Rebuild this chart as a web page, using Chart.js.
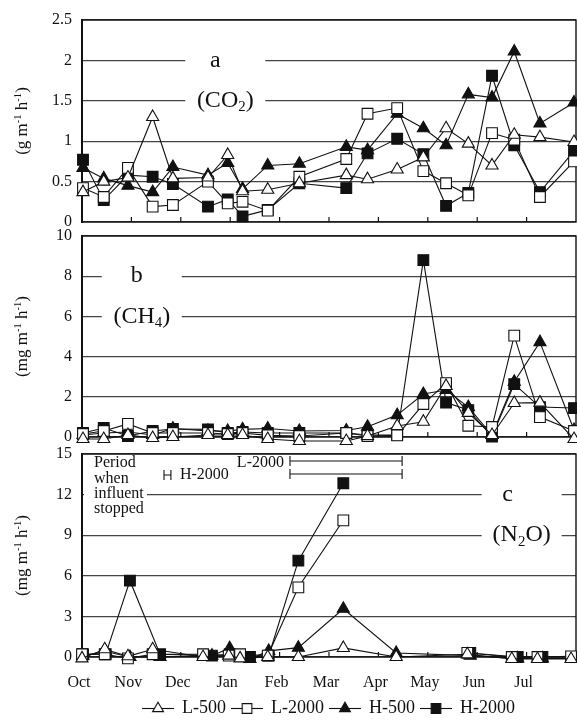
<!DOCTYPE html>
<html>
<head>
<meta charset="utf-8">
<script src="https://cdn.jsdelivr.net/npm/chart.js@4.4.0/dist/chart.umd.min.js"></script>
<style>
  html, body { margin: 0; padding: 0; background: #fff; }
  #wrap { position: relative; width: 577px; height: 720px; overflow: hidden; background: #fff; }
  canvas { position: absolute; left: 0; }
  #chartA { top: 0; }
  #chartB { top: 216px; }
  #chartC { top: 434px; }
</style>
</head>
<body>
<div id="wrap">
  <canvas id="chartA" width="577" height="232"></canvas>
  <canvas id="chartB" width="577" height="231"></canvas>
  <canvas id="chartC" width="577" height="296"></canvas>
</div>
<script>
// ===== Data =====
const months = ['Oct', 'Nov', 'Dec', 'Jan', 'Feb', 'Mar', 'Apr', 'May', 'Jun', 'Jul'];
const seriesNames = ['L-500', 'L-2000', 'H-500', 'H-2000'];

// sampling dates (months after 1 Oct), panels a and b
const sampleDates = [0.02, 0.44, 0.93, 1.43, 1.84, 2.55, 2.95, 3.25, 3.76, 4.40, 5.35, 5.78, 6.38, 6.91, 7.37, 7.82, 8.30, 8.75, 9.27, 9.96];

// (a) CO2, g m-1 h-1
const co2L500  = [0.37, 0.50, 0.55, 1.30, 0.54, 0.55, 0.83, 0.38, 0.40, 0.48, 0.58, 0.53, 0.65, 0.80, 1.16, 0.97, 0.70, 1.08, 1.05, 0.99];
const co2L2000 = [0.42, 0.31, 0.67, 0.19, 0.21, 0.50, 0.23, 0.25, 0.14, 0.56, 0.78, 1.34, 1.41, 0.63, 0.48, 0.33, 1.10, 1.02, 0.31, 0.75];
const co2H500  = [0.67, 0.54, 0.45, 0.37, 0.68, 0.58, 0.73, 0.41, 0.70, 0.72, 0.93, 0.89, 1.34, 1.16, 0.95, 1.58, 1.54, 2.11, 1.22, 1.48];
const co2H2000 = [0.77, 0.27, 0.58, 0.56, 0.47, 0.19, 0.28, 0.07, 0.15, 0.48, 0.42, 0.85, 1.03, 0.84, 0.20, 0.36, 1.81, 0.95, 0.37, 0.88];

// (b) CH4, mg m-1 h-1
const ch4L500  = [-0.1, -0.1, 0.10, -0.05, 0.00, 0.10, 0.10, 0.10, -0.1, -0.2, -0.2, 0.05, 0.55, 0.76, 2.54, 1.20, 0.10, 1.69, 1.71, -0.1];
const ch4L2000 = [0.15, 0.30, 0.65, 0.20, 0.20, 0.20, 0.15, 0.20, 0.08, 0.05, 0.20, 0.05, 0.08, 1.64, 2.68, 0.56, 0.50, 5.04, 0.99, 0.30];
const ch4H500  = [0.10, 0.20, 0.25, 0.10, 0.42, 0.30, 0.30, 0.38, 0.42, 0.30, 0.32, 0.51, 1.09, 2.14, 2.34, 1.49, 0.10, 2.75, 4.72, 0.35];
const ch4H2000 = [0.20, 0.45, 0.05, 0.30, 0.40, 0.38, 0.20, 0.25, 0.20, 0.20, 0.20, 0.10, 0.10, 8.80, 1.71, 1.34, 0.02, 2.63, 1.49, 1.44];

// (c) N2O, mg m-1 h-1 (L and H lines sampled on slightly different days)
const n2oDatesL = [0.00, 0.46, 0.93, 1.43, 2.45, 2.97, 3.20, 3.76, 4.38, 5.29, 6.36, 7.80, 8.70, 9.22, 9.90];
const n2oDatesH = [0.02, 0.48, 0.97, 1.58, 2.63, 2.99, 3.40, 3.78, 4.38, 5.29, 6.36, 7.86, 8.82, 9.32, 9.98];
const n2oL500  = [-0.1, 0.57, 0.05, 0.57, 0.00, 0.10, -0.1, 0.00, 0.00, 0.67, 0.00, 0.20, -0.15, -0.15, -0.15];
const n2oL2000 = [0.20, 0.20, -0.1, 0.20, 0.20, 0.10, 0.20, 0.10, 5.15, 10.1, null, 0.30, 0.00, 0.00, 0.05];
const n2oH500  = [0.10, 0.40, 0.00, 0.00, 0.10, 0.65, -0.15, 0.45, 0.69, 3.56, 0.30, 0.10, -0.1, -0.1, -0.1];
const n2oH2000 = [0.20, 0.20, 5.64, 0.20, 0.10, 0.20, 0.00, 0.10, 7.12, 12.84, null, 0.30, 0.00, 0.00, 0.00];

// periods when influent stopped (months after 1 Oct)
const stopL2000 = [4.21, 6.48];
const stopH2000 = [1.66, 1.80];

// ===== Styles =====
const FONT = "'Liberation Serif', 'Times New Roman', serif";
const INK = '#111';
const seriesStyle = {
    'L-500':  { shape: 'triangle', fill: '#fff', r: 7 },
    'L-2000': { shape: 'rect',     fill: '#fff', r: 7.6 },
    'H-500':  { shape: 'triangle', fill: '#111', r: 7 },
    'H-2000': { shape: 'rect',     fill: '#111', r: 7.6 }
};

const pts = (xs, ys) => xs.map((x, i) => ({ x: x, y: ys[i] }));

function makeSet(name, data) {
    const s = seriesStyle[name];
    return {
        label: name,
        data: data,
        borderColor: INK,
        borderWidth: 1.1,
        pointStyle: s.shape,
        pointRadius: s.r,
        pointBackgroundColor: s.fill,
        pointBorderColor: INK,
        pointBorderWidth: 1.1,
        tension: 0,
        spanGaps: false,
        clip: false
    };
}

// ===== Rich text (sub/superscripts) =====
function drawRich(ctx, parts, x, y, size, align) {
    const small = size * 0.62;
    let total = 0;
    parts.forEach(([t, k]) => { ctx.font = `${k ? small : size}px ${FONT}`; total += ctx.measureText(t).width; });
    let cx = align === 'left' ? x : x - total / 2;
    ctx.textAlign = 'left';
    ctx.textBaseline = 'middle';
    parts.forEach(([t, k]) => {
        ctx.font = `${k ? small : size}px ${FONT}`;
        const dy = k === 'sub' ? size * 0.28 : (k === 'sup' ? -size * 0.3 : 0);
        ctx.fillText(t, cx, y + dy);
        cx += ctx.measureText(t).width;
    });
    return total;
}

// ===== Panel decoration: frame, inner ticks, titles, labels =====
const panelDeco = {
    id: 'panelDeco',
    beforeDatasetsDraw(chart, args, o) {
        const { ctx, chartArea: a, scales } = chart;
        const xs = scales.x, ys = scales.y;
        ctx.save();
        ctx.strokeStyle = INK;
        ctx.lineWidth = 1.4;
        ctx.strokeRect(a.left, a.top, a.right - a.left, a.bottom - a.top);
        ctx.lineWidth = 2;
        ctx.beginPath(); ctx.moveTo(a.left, a.top - 1); ctx.lineTo(a.left, a.bottom + 1); ctx.stroke();

        // month ticks pointing into the plot
        ctx.lineWidth = 1.2;
        for (let m = 1; m < 10; m++) {
            const px = xs.getPixelForValue(m);
            ctx.beginPath(); ctx.moveTo(px, a.bottom); ctx.lineTo(px, a.bottom - 5); ctx.stroke();
        }

        // y axis title
        ctx.fillStyle = INK;
        ctx.save();
        ctx.translate(23, (a.top + a.bottom) / 2);
        ctx.rotate(-Math.PI / 2);
        drawRich(ctx, o.yTitle, 0, 0, 17, 'center');
        ctx.restore();

        // panel letter and formula, sitting in gaps of the grid lines
        o.labels.forEach(l => {
            const px = xs.getPixelForValue(l.x);
            const py = ys.getPixelForValue(l.y);
            ctx.fillStyle = '#fff';
            ctx.fillRect(px - l.gap / 2, py - 3, l.gap, 6);
            ctx.fillStyle = INK;
            drawRich(ctx, l.parts, px + (l.dx || 0), py, 24, 'center');
        });

        if (o.extra) o.extra(chart, ctx, a, xs, ys);
        ctx.restore();
    }
};

function bracket(ctx, x1, x2, y) {
    ctx.beginPath();
    ctx.moveTo(x1, y); ctx.lineTo(x2, y);
    ctx.moveTo(x1, y - 5); ctx.lineTo(x1, y + 5);
    ctx.moveTo(x2, y - 5); ctx.lineTo(x2, y + 5);
    ctx.stroke();
}

// ===== Legend icons (line through marker) =====
const legendIcons = seriesNames.map(name => {
    const s = seriesStyle[name];
    const c = document.createElement('canvas');
    c.width = 32; c.height = 16;
    const g = c.getContext('2d');
    g.strokeStyle = INK; g.lineWidth = 1.1;
    g.beginPath(); g.moveTo(0, 8.5); g.lineTo(32, 8.5); g.stroke();
    g.fillStyle = s.fill;
    Chart.helpers.drawPoint(g, { pointStyle: s.shape, radius: s.r * 0.9, rotation: 0, borderWidth: 1.1 }, 16, 8.5);
    return c;
});

// ===== Chart factory =====
function makePanel(canvasId, datasets, yMax, yStep, padding, deco, withAxis) {
    const ctx = document.getElementById(canvasId).getContext('2d');
    return new Chart(ctx, {
        type: 'line',
        data: { datasets: datasets },
        plugins: [panelDeco],
        options: {
            responsive: false,
            devicePixelRatio: 1,
            animation: false,
            events: [],
            layout: { padding: padding, autoPadding: false },
            plugins: {
                panelDeco: deco,
                tooltip: { enabled: false },
                legend: withAxis ? {
                    display: true,
                    position: 'bottom',
                    fullSize: false,
                    labels: {
                        color: INK,
                        font: { family: FONT, size: 18 },
                        usePointStyle: true,
                        pointStyleWidth: 30,
                        boxHeight: 16,
                        padding: 6,
                        generateLabels: (chart) => {
                            const items = Chart.defaults.plugins.legend.labels.generateLabels(chart);
                            items.forEach((it, i) => { it.pointStyle = legendIcons[i]; });
                            return items;
                        }
                    }
                } : { display: false }
            },
            scales: {
                x: {
                    type: 'linear',
                    min: 0,
                    max: 10,
                    display: withAxis,
                    // tick marks are drawn inside by the plugin; tickLength only spaces the labels
                    grid: { display: false, drawTicks: true, tickLength: 16 },
                    border: { display: false },
                    ticks: {
                        stepSize: 1,
                        autoSkip: false,
                        maxRotation: 0,
                        padding: 0,
                        labelOffset: -3,
                        color: INK,
                        font: { family: FONT, size: 16 },
                        callback: (v) => months[v] || ''
                    },
                    afterFit: (s) => { s.height = withAxis ? 36 : 0; }
                },
                y: {
                    min: 0,
                    max: yMax,
                    grid: { color: '#444', lineWidth: 1.3, drawTicks: true, tickLength: 10, tickColor: 'rgba(0,0,0,0)' },
                    border: { display: false },
                    ticks: {
                        stepSize: yStep,
                        padding: 0,
                        color: INK,
                        font: { family: FONT, size: 16 },
                        callback: (v) => String(v)
                    },
                    afterFit: (s) => { s.width = 82; }
                }
            }
        }
    });
}

const panelA = [
    makeSet('L-500',  pts(sampleDates, co2L500)),
    makeSet('L-2000', pts(sampleDates, co2L2000)),
    makeSet('H-500',  pts(sampleDates, co2H500)),
    makeSet('H-2000', pts(sampleDates, co2H2000))
];
const panelB = [
    makeSet('L-500',  pts(sampleDates, ch4L500)),
    makeSet('L-2000', pts(sampleDates, ch4L2000)),
    makeSet('H-500',  pts(sampleDates, ch4H500)),
    makeSet('H-2000', pts(sampleDates, ch4H2000))
];
const panelC = [
    makeSet('L-500',  pts(n2oDatesL, n2oL500)),
    makeSet('L-2000', pts(n2oDatesL, n2oL2000)),
    makeSet('H-500',  pts(n2oDatesH, n2oH500)),
    makeSet('H-2000', pts(n2oDatesH, n2oH2000))
];

const gTitle  = [['(g m', ''], ['-1', 'sup'], [' h', ''], ['-1', 'sup'], [')', '']];
const mgTitle = [['(mg m', ''], ['-1', 'sup'], [' h', ''], ['-1', 'sup'], [')', '']];

makePanel('chartA', panelA, 2.5, 0.5, { top: 20, bottom: 10, left: 0, right: 1 }, {
    yTitle: gTitle,
    labels: [
        { parts: [['a', '']], x: 2.9, y: 2, gap: 80, dx: -10 },
        { parts: [['(CO', ''], ['2', 'sub'], [')', '']], x: 2.9, y: 1.5, gap: 80 }
    ]
}, false);

makePanel('chartB', panelB, 10, 2, { top: 20, bottom: 10, left: 0, right: 1 }, {
    yTitle: mgTitle,
    labels: [
        { parts: [['b', '']], x: 1.21, y: 8, gap: 80, dx: -5 },
        { parts: [['(CH', ''], ['4', 'sub'], [')', '']], x: 1.21, y: 6, gap: 80 }
    ]
}, false);

makePanel('chartC', panelC, 15, 3, { top: 20, bottom: 3, left: 0, right: 1 }, {
    yTitle: mgTitle,
    labels: [
        { parts: [['c', '']], x: 8.9, y: 12, gap: 80, dx: -14 },
        { parts: [['(N', ''], ['2', 'sub'], ['O)', '']], x: 8.9, y: 9, gap: 80 }
    ],
    extra: (chart, ctx, a, xs, ys) => {
        // note box, top left
        const py = ys.getPixelForValue(12);
        ctx.fillStyle = '#fff';
        ctx.fillRect(a.left + 2, py - 3, 147 - a.left - 2, 6);
        ctx.fillStyle = INK;
        ['Period', 'when', 'influent', 'stopped'].forEach((t, i) => {
            drawRich(ctx, [[t, '']], 94, a.top + 9 + i * 15.3, 16, 'left');
        });
        // brackets
        ctx.strokeStyle = INK;
        ctx.lineWidth = 1.1;
        const l1 = xs.getPixelForValue(stopL2000[0]), l2 = xs.getPixelForValue(stopL2000[1]);
        bracket(ctx, l1, l2, a.top + 7);
        bracket(ctx, l1, l2, a.top + 20);
        bracket(ctx, xs.getPixelForValue(stopH2000[0]), xs.getPixelForValue(stopH2000[1]), a.top + 21);
        ctx.font = `16px ${FONT}`;
        ctx.textBaseline = 'middle';
        ctx.textAlign = 'right';
        ctx.fillText('L-2000', l1 - 6, a.top + 9);
        ctx.textAlign = 'left';
        ctx.fillText('H-2000', xs.getPixelForValue(stopH2000[1]) + 9, a.top + 21);
    }
}, true);
</script>
</body>
</html>
